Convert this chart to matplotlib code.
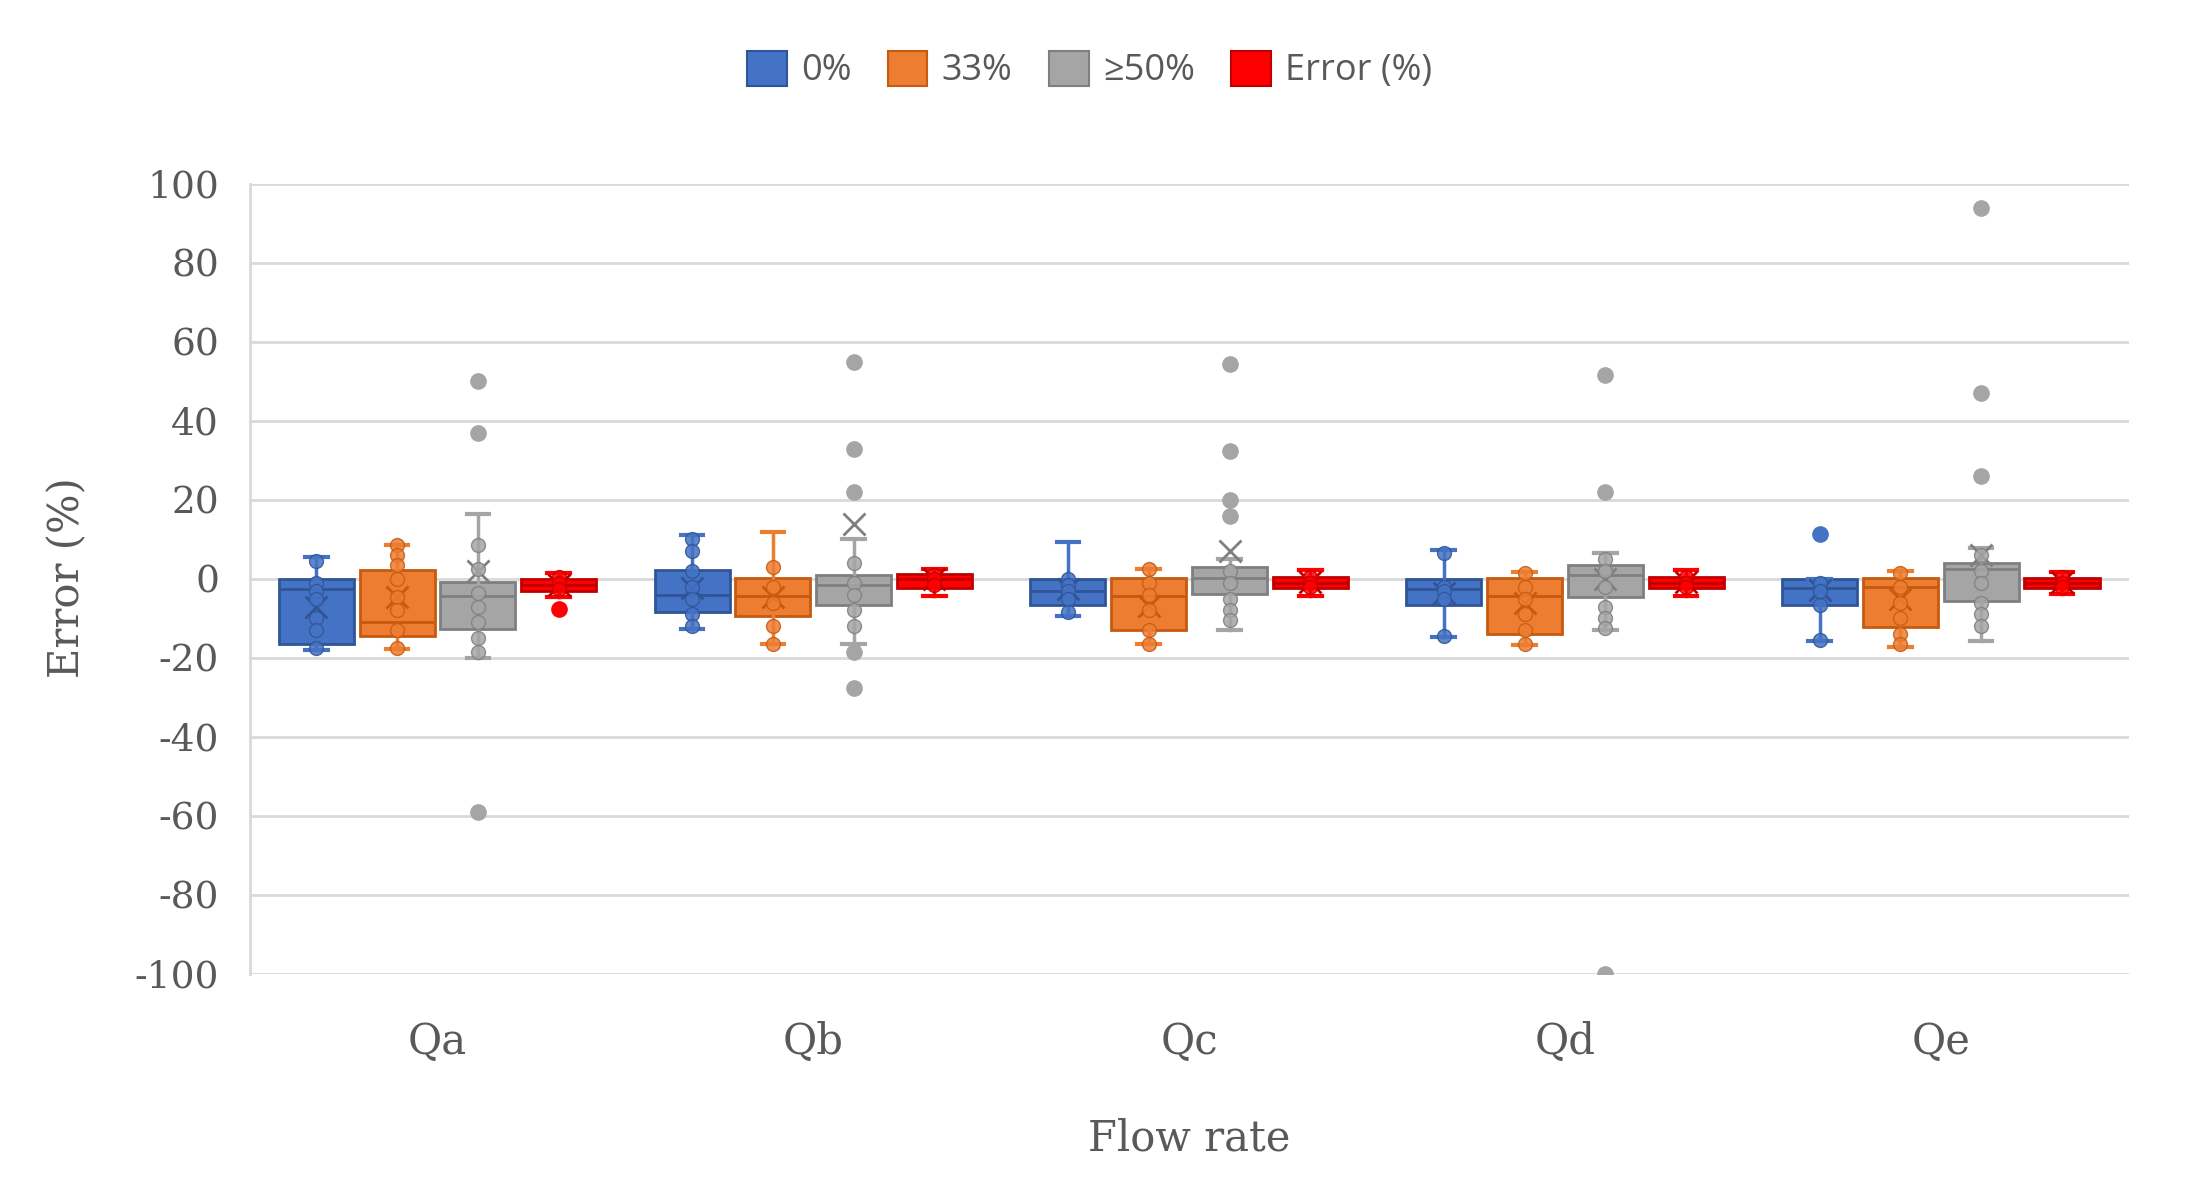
import matplotlib
matplotlib.use("Agg")
import matplotlib.pyplot as plt
from matplotlib.patches import Patch

# flow-rate categories and series
categories = ["Qa", "Qb", "Qc", "Qd", "Qe"]
series = ["0%", "33%", "≥50%", "Error (%)"]

# box statistics (one value per category)
q1 = {
    "0%":        [-16.5, -8.4, -6.7, -6.7, -6.7],
    "33%":       [-14.5, -9.3, -12.9, -14.0, -12.2],
    "≥50%":      [-12.8, -6.5, -3.9, -4.6, -5.6],
    "Error (%)": [-3.0, -2.2, -2.2, -2.2, -2.3],
}
med = {
    "0%":        [-2.5, -4.0, -3.0, -2.6, -2.3],
    "33%":       [-11.0, -4.3, -4.3, -4.3, -2.0],
    "≥50%":      [-4.3, -1.6, 0.2, 0.9, 2.6],
    "Error (%)": [-1.5, 0.0, -1.0, -1.0, -1.0],
}
q3 = {
    "0%":        [0.0, 2.3, 0.0, 0.0, 0.0],
    "33%":       [2.2, 0.2, 0.2, 0.2, 0.2],
    "≥50%":      [-0.7, 0.9, 3.0, 3.6, 4.0],
    "Error (%)": [0.0, 1.3, 0.4, 0.4, 0.3],
}
whislo = {
    "0%":        [-18.0, -12.8, -9.5, -14.7, -15.8],
    "33%":       [-17.7, -16.5, -16.5, -16.8, -17.2],
    "≥50%":      [-20.0, -16.5, -12.9, -12.9, -15.8],
    "Error (%)": [-4.5, -4.3, -4.3, -4.3, -3.8],
}
whishi = {
    "0%":        [5.5, 11.0, 9.3, 7.3, 0.0],
    "33%":       [8.6, 11.9, 2.6, 1.7, 2.0],
    "≥50%":      [16.4, 10.0, 5.0, 6.5, 7.8],
    "Error (%)": [1.5, 2.6, 2.2, 2.2, 1.8],
}
means = {
    "0%":        [-7.0, -2.2, -2.6, -3.5, -2.7],
    "33%":       [-4.7, -4.7, -6.9, -6.0, -5.0],
    "≥50%":      [2.0, 13.8, 7.0, 0.0, 6.0],
    "Error (%)": [-1.5, 0.0, -0.8, -0.8, -0.8],
}
outliers = {
    "0%":        [[], [], [], [], [11.3]],
    "33%":       [[], [], [], [], []],
    "≥50%":      [[50, 37, -59], [55, 33, 22, -18.5, -27.5], [54.5, 32.5, 20, 16],
                  [51.5, 22, -100], [94, 47, 26]],
    "Error (%)": [[-7.5], [], [], [], []],
}
# inner points shown inside the whiskers
inner = {
    "0%":        [[4.5, -1, -3, -5, -10, -13, -17.5], [10, 7, 2, -2, -5, -9, -12],
                  [0, -1.5, -3, -5, -8.5], [6.5, -2, -3, -5, -14.5], [-1, -3, -6.5, -15.5]],
    "33%":       [[8.6, 6, 3.4, 0, -4.7, -7.8, -13, -17.5], [3, -2, -6, -12, -16.5],
                  [2.5, -1, -4, -8, -13, -16.5], [1.5, -2, -5, -9, -13, -16.5],
                  [1.5, -2, -6, -10, -14, -16.5]],
    "≥50%":      [[8.5, 2.5, -3.5, -7, -11, -15, -18.5], [4, -1, -4, -8, -12],
                  [2, -1, -5, -8, -10.5], [5, 2, -2, -7, -10, -12.5],
                  [6, 2, -1, -6, -9, -12]],
    "Error (%)": [[0.5, -1, -2.5], [1, 0, -1.5], [0.5, -1, -2], [0.5, -1, -2], [0.5, -1, -2]],
}

fill = {"0%": "#4472C4", "33%": "#ED7D31", "≥50%": "#A5A5A5", "Error (%)": "#FF0000"}
dark = {"0%": "#2F5597", "33%": "#C55A11", "≥50%": "#7F7F7F", "Error (%)": "#C00000"}

plt.rcParams["axes.unicode_minus"] = False
txt = "#595959"
serif = "DejaVu Serif"

fig = plt.figure(figsize=(21.99, 11.79), dpi=100)
ax = fig.add_axes([0.1135, 0.174, 0.8545, 0.670])

step = 0.215
width = 0.2
for k, s in enumerate(series):
    offset = (k - 1.5) * step
    stats = []
    for i in range(len(categories)):
        stats.append({
            "q1": q1[s][i], "med": med[s][i], "q3": q3[s][i],
            "whislo": whislo[s][i], "whishi": whishi[s][i],
            "mean": means[s][i], "fliers": outliers[s][i],
        })
    pos = [i + offset for i in range(len(categories))]
    ax.bxp(stats, positions=pos, widths=width, capwidths=width * 0.3,
           patch_artist=True, showmeans=True, showfliers=True, zorder=3,
           boxprops=dict(facecolor=fill[s], edgecolor=dark[s], linewidth=2),
           medianprops=dict(color=dark[s], linewidth=2),
           whiskerprops=dict(color=fill[s], linewidth=2.5),
           capprops=dict(color=fill[s], linewidth=3),
           meanprops=dict(marker="x", markeredgecolor=dark[s], markersize=16,
                          markeredgewidth=2),
           flierprops=dict(marker="o", markerfacecolor=fill[s], markeredgecolor=fill[s],
                           markersize=11))
    for i, pts in enumerate(inner[s]):
        ax.plot([pos[i]] * len(pts), pts, "o", color=fill[s], markeredgecolor=dark[s],
                markersize=10, markeredgewidth=1, alpha=0.85, zorder=4)

ax.set_xlim(-0.5, len(categories) - 0.5)
ax.set_ylim(-100, 100)
ax.set_yticks(range(-100, 101, 20))
ax.set_xticks(range(len(categories)))
ax.set_xticklabels(categories)
ax.grid(axis="y", color="#D9D9D9", linewidth=2, zorder=0)
ax.set_axisbelow(True)
for side in ["top", "right", "bottom"]:
    ax.spines[side].set_visible(False)
ax.spines["left"].set_color("#D9D9D9")
ax.spines["left"].set_linewidth(2)
ax.tick_params(axis="both", length=0, labelcolor=txt)
ax.tick_params(axis="y", pad=22, labelsize=27)
ax.tick_params(axis="x", pad=34, labelsize=30)
for lab in ax.get_xticklabels() + ax.get_yticklabels():
    lab.set_fontfamily(serif)

fig.text(0.541, 0.0345, "Flow rate", ha="center", va="center", fontsize=30,
         color=txt, family=serif)
fig.text(0.0306, 0.51, "Error (%)", ha="center", va="center", rotation=90,
         fontsize=30, color=txt, family=serif)

handles = [Patch(facecolor=fill[s], edgecolor=dark[s], linewidth=1.5, label=s) for s in series]
fig.legend(handles=handles, loc="center", bbox_to_anchor=(0.4955, 0.9405), ncol=4,
           frameon=False, handlelength=1.1, handleheight=1.1, handletextpad=0.4,
           columnspacing=1.0, prop={"family": "Open Sans", "size": 26},
           labelcolor=txt)

fig.savefig("out.png", dpi=100)
